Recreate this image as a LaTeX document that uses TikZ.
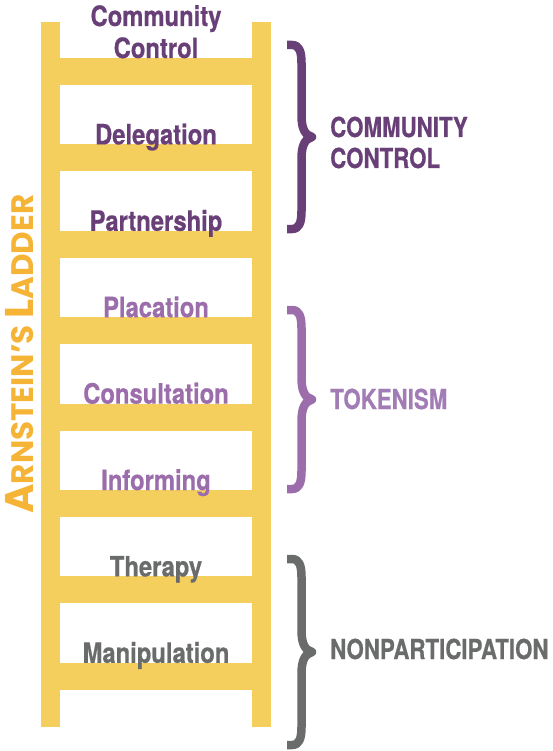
\documentclass[tikz,border=0pt]{standalone}
\usepackage{fontspec}
\setmainfont{TeX Gyre Heros}
\newfontfamily\labelfont[FakeStretch=0.85,FakeBold=0.6]{TeX Gyre Heros}
\newfontfamily\grouplabelfont[FakeStretch=0.81,FakeBold=0.6]{TeX Gyre Heros}
\newfontfamily\titlefont{Poppins}
\definecolor{gold}{HTML}{F4CF5E}
\definecolor{darkpurple}{HTML}{683F77}
\definecolor{lightpurple}{HTML}{9C6DAB}
\definecolor{tokpurple}{HTML}{A27CB5}
\definecolor{graytext}{HTML}{6A6B6B}
\definecolor{orangetext}{HTML}{F6B436}
\tikzset{
  rail/.style={fill=gold, draw=none},
  rung/.style={fill=gold, draw=none},
  rungtext/.style={font=\labelfont\bfseries\fontsize{28}{30}\selectfont, anchor=base, inner sep=0pt},
  grouptext/.style={font=\grouplabelfont\bfseries\fontsize{27.5}{31}\selectfont, anchor=base west, inner sep=0pt},
  bracestroke/.style={line width=8.5pt, line cap=butt, line join=round}
}
\newcommand{\mybrace}[3]{%
  \pgfmathsetmacro\ym{(#1+#2)/2}
  \draw[bracestroke, #3] (287,#1) -- (292,#1)
    .. controls (299,#1) and (301.5,#1+6) .. (301.5,#1+18)
    -- (301.5,\ym-22)
    .. controls (301.5,\ym-8) and (305,\ym-2) .. (312,\ym)
    .. controls (305,\ym+2) and (301.5,\ym+8) .. (301.5,\ym+22)
    -- (301.5,#2-18)
    .. controls (301.5,#2-6) and (299,#2) .. (292,#2) -- (287,#2);
}
\begin{document}
\begin{tikzpicture}[x=1pt,y=-1pt]
\useasboundingbox (0,0) rectangle (553,751);
% rails
\fill[rail] (41,22) rectangle (60,727);
\fill[rail] (252,22) rectangle (271,727);
% rungs
\foreach \t in {58,144.4,230.8,317.2,403.6,490,576.4,662.8}{
  \fill[rung] (41,\t) rectangle (271,\t+27);
}
% rung labels
\node[rungtext, darkpurple] (cc1) at (156,26) {Community};
\node[rungtext, darkpurple] (cc2) at (156,58) {Control};
\node[rungtext, darkpurple] (del) at (156,144.4) {Delegation};
\node[rungtext, darkpurple] (par) at (156,230.8) {Partnership};
\node[rungtext, lightpurple] (pla) at (156,317.2) {Placation};
\node[rungtext, lightpurple] (con) at (156,403.6) {Consultation};
\node[rungtext, lightpurple] (inf) at (156,490) {Informing};
\node[rungtext, graytext] (the) at (156,576.4) {Therapy};
\node[rungtext, graytext] (man) at (156,662.8) {Manipulation};
% vertical title
\node[rotate=90, anchor=base, inner sep=0pt, text=orangetext,
      font=\titlefont\bfseries] (title) at (33,354)
  {{\fontsize{40}{40}\selectfont A}{\fontsize{31}{31}\selectfont RNSTEIN’S }{\fontsize{40}{40}\selectfont L}{\fontsize{31}{31}\selectfont ADDER}};
% braces
\mybrace{45}{229}{darkpurple}
\mybrace{310}{489}{lightpurple}
\mybrace{559}{745}{graytext}
% group labels
\node[grouptext, darkpurple] (gcc1) at (330,137) {COMMUNITY};
\node[grouptext, darkpurple] (gcc2) at (330,168) {CONTROL};
\node[grouptext, tokpurple] (gtok) at (330,409) {TOKENISM};
\node[grouptext, graytext] (gnon) at (330,659) {NONPARTICIPATION};
\end{tikzpicture}
\end{document}
